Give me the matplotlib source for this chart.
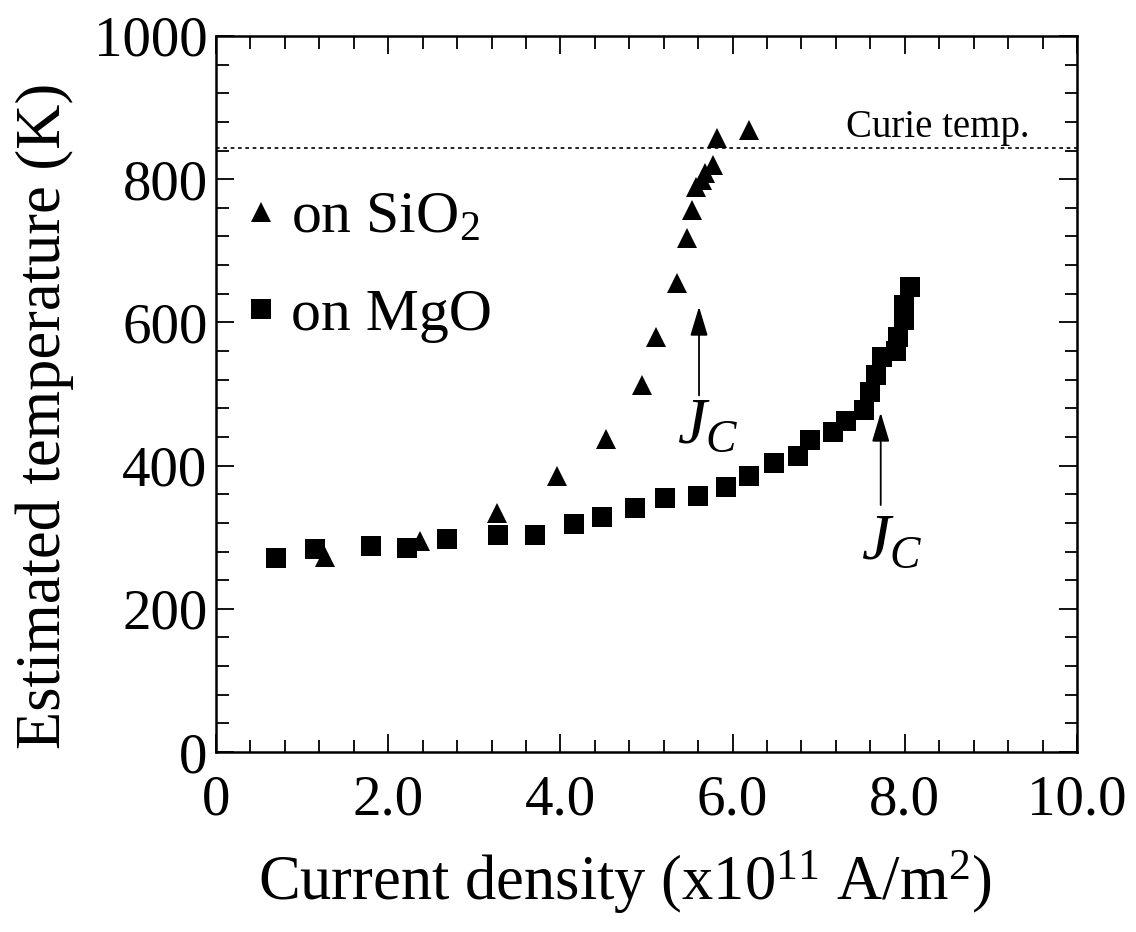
import matplotlib
matplotlib.use("Agg")
import matplotlib.pyplot as plt
from matplotlib.ticker import MultipleLocator, AutoMinorLocator, FixedLocator

plt.rcParams['font.family'] = ['Liberation Serif', 'DejaVu Serif']
plt.rcParams['mathtext.fontset'] = 'custom'
plt.rcParams['mathtext.rm'] = 'Liberation Serif'
plt.rcParams['mathtext.it'] = 'Liberation Serif:italic'
plt.rcParams['mathtext.bf'] = 'Liberation Serif:bold'

# --------------------- data ---------------------
# on SiO2 (triangles)
sio2_j = [1.27, 2.37, 3.26, 3.96, 4.53, 4.95, 5.11, 5.35, 5.47, 5.53, 5.57,
          5.64, 5.68, 5.77, 5.82, 6.19]
sio2_t = [272, 295, 334, 386, 437, 513, 580, 655, 718, 757, 789,
          799, 809, 820, 857, 868]

# on MgO (squares)
mgo_j = [0.70, 1.15, 1.80, 2.22, 2.68, 3.28, 3.70, 4.16, 4.48, 4.87,
         5.21, 5.60, 5.92, 6.19, 6.48, 6.76, 6.90, 7.17, 7.32, 7.53,
         7.60, 7.67, 7.74, 7.90, 7.92, 7.99, 7.99, 8.06]
mgo_t = [271, 283, 288, 285, 297, 303, 303, 318, 328, 341,
         355, 358, 370, 385, 404, 413, 436, 447, 462, 478,
         503, 527, 552, 560, 580, 603, 624, 649]

curie_temp = 844

# J_C arrows: (x, tail y, head y) and label position
jc_arrows = [(5.61, 498, 622), (7.72, 345, 474)]
jc_labels = [(5.71, 454), (7.85, 292)]

# --------------------- figure ---------------------
fig = plt.figure(figsize=(11.36, 9.32), dpi=100)
ax = fig.add_axes([0.1901, 0.1931, 0.9481 - 0.1901, 0.9614 - 0.1931])

ax.plot(sio2_j, sio2_t, '^', color='k', ms=14, mew=0, label='on SiO$_2$')
ax.plot(mgo_j, mgo_t, 's', color='k', ms=14, mew=0, label='on MgO')

ax.axhline(curie_temp, color='k', lw=1.2, ls=(0, (2.2, 2.2)))
ax.text(9.45, curie_temp + 2, 'Curie temp.', fontsize=28, ha='right', va='bottom')

for (x, y0, y1) in jc_arrows:
    ax.annotate('', xy=(x, y1), xytext=(x, y0),
                arrowprops=dict(arrowstyle='-|>,head_length=0.9,head_width=0.27',
                                mutation_scale=20, color='k', lw=1.3,
                                shrinkA=0, shrinkB=0))
for (x, y) in jc_labels:
    ax.text(x, y, '$J_C$', fontsize=47, ha='center', va='center')

ax.set_xlim(0, 10)
ax.set_ylim(0, 1000)
ax.xaxis.set_major_locator(FixedLocator([0, 2, 4, 6, 8, 10]))
ax.set_xticklabels(['0', '2.0', '4.0', '6.0', '8.0', '10.0'])
ax.xaxis.set_minor_locator(MultipleLocator(0.4))
ax.yaxis.set_major_locator(MultipleLocator(200))
ax.yaxis.set_minor_locator(AutoMinorLocator(5))

ax.tick_params(which='both', direction='in', top=True, right=True,
               labelsize=41, width=1.3)
ax.tick_params(which='major', length=13)
ax.tick_params(which='minor', length=9)
ax.tick_params(axis='x', pad=16)
ax.tick_params(axis='y', pad=6)
for s in ax.spines.values():
    s.set_linewidth(1.8)

ax.set_xlabel('Current density (x10$^{11}$ A/m$^{2}$)', fontsize=45)
ax.set_ylabel('Estimated temperature (K)', fontsize=45)
ax.xaxis.set_label_coords(0.475, -0.135)
ax.yaxis.set_label_coords(-0.165, 0.47)

ax.legend(loc='upper left', bbox_to_anchor=(0.032, 0.783), frameon=False,
          numpoints=1, fontsize=43, handlelength=0.6, handletextpad=0.2,
          borderaxespad=0, borderpad=0, labelspacing=0.7)

fig.savefig('out.png', dpi=100)
